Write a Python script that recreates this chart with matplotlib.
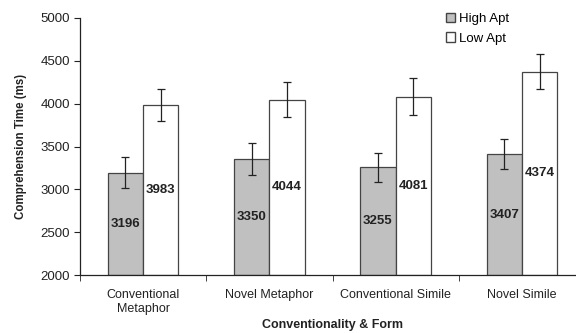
import matplotlib
matplotlib.use("Agg")
import matplotlib.pyplot as plt
import numpy as np
from matplotlib.patches import Patch

plt.rcParams['font.family'] = ['Liberation Sans', 'DejaVu Sans']

categories = ["Conventional\nMetaphor", "Novel Metaphor", "Conventional Simile", "Novel Simile"]
high_apt = [3196, 3350, 3255, 3407]
low_apt = [3983, 4044, 4081, 4374]
high_err = [180, 187, 170, 175]
low_err = [185, 205, 213, 205]

fig = plt.figure(figsize=(5.76, 3.33), dpi=100)
ax = fig.add_axes([80/576, 1-275/333, 505/576, (275-18)/333])

x = np.arange(len(categories))
w = 0.28
base = 2000
edge = '#444444'
ax.bar(x - w/2, np.array(high_apt) - base, w, bottom=base, color='#c0c0c0', edgecolor=edge, linewidth=0.9)
ax.bar(x + w/2, np.array(low_apt) - base, w, bottom=base, color='white', edgecolor=edge, linewidth=0.9)
ax.errorbar(x - w/2, high_apt, yerr=high_err, fmt='none', ecolor='#222222', elinewidth=0.9, capsize=3, capthick=0.9)
ax.errorbar(x + w/2, low_apt, yerr=low_err, fmt='none', ecolor='#222222', elinewidth=0.9, capsize=3, capthick=0.9)

for xi, v in zip(x - w/2, high_apt):
    ax.text(xi, (base + v) / 2, str(v), ha='center', va='center', fontsize=9.5, fontweight='bold', color='#222222')
for xi, v in zip(x + w/2, low_apt):
    ax.text(xi, (base + v) / 2, str(v), ha='center', va='center', fontsize=9.5, fontweight='bold', color='#222222')

ax.set_ylim(2000, 5000)
ax.set_yticks(np.arange(2000, 5001, 500))
ax.set_xlim(-0.5, 3.5)
ax.set_xticks(x)
ax.set_xticklabels(categories, fontsize=9, color='#222222', linespacing=1.25)
ax.set_xticks(np.arange(-0.5, 3.6, 1), minor=True)
ax.tick_params(axis='x', which='major', length=0, pad=10)
ax.tick_params(axis='x', which='minor', length=4, direction='out', color='#222222')
ax.tick_params(axis='y', length=4, direction='out', labelsize=9.5, colors='#222222', pad=3)
for s in ['top', 'right']:
    ax.spines[s].set_visible(False)
for s in ['left', 'bottom']:
    ax.spines[s].set_color('#222222')
    ax.spines[s].set_linewidth(0.9)

ax.set_ylabel("Comprehension Time (ms)", fontsize=8.3, fontweight='bold', color='#222222', labelpad=10)
ax.set_xlabel("Conventionality & Form", fontsize=9, fontweight='bold', color='#222222', labelpad=3)

handles = [Patch(facecolor='#c0c0c0', edgecolor=edge, label='High Apt'),
           Patch(facecolor='white', edgecolor=edge, label='Low Apt')]
fig.legend(handles=handles, loc='upper left', bbox_to_anchor=(439/576, 1 - 6/333), frameon=False,
           fontsize=9.5, handlelength=0.75, handleheight=0.75, handletextpad=0.3, labelspacing=0.55,
           borderpad=0)

fig.savefig("out.png", dpi=100)
